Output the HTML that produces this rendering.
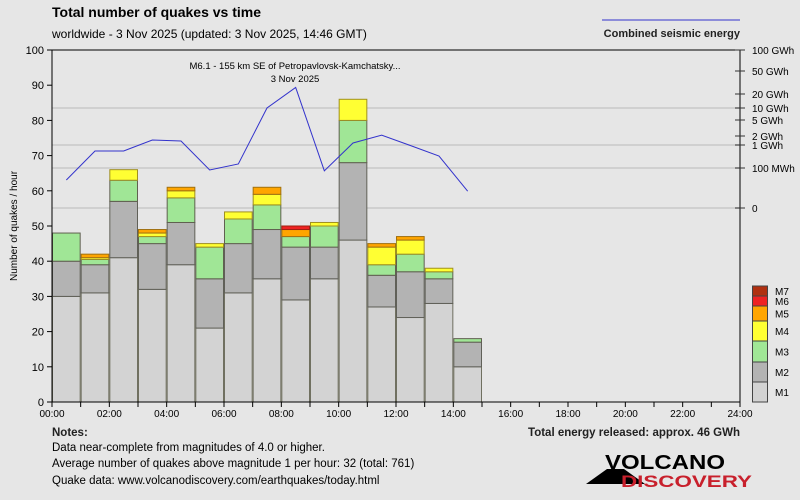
<!DOCTYPE html>
<html><head><meta charset="utf-8"><style>
html,body{margin:0;padding:0;background:#e6e6e6;}
svg{display:block;font-family:"Liberation Sans",sans-serif;}
</style></head><body>
<svg id="chart" width="800" height="500" viewBox="0 0 800 500" xmlns="http://www.w3.org/2000/svg">
<rect x="0" y="0" width="800" height="500" fill="#e6e6e6"/>
<text x="52" y="17" font-weight="bold" font-size="14" fill="#000">Total number of quakes vs time</text>
<text x="52" y="38" font-size="12" fill="#000">worldwide -  3 Nov 2025 (updated: 3 Nov 2025, 14:46 GMT)</text>
<line x1="602" y1="20" x2="740" y2="20" stroke="#3333cc" stroke-width="1"/>
<text x="740" y="37" text-anchor="end" font-weight="bold" font-size="11" fill="#222">Combined seismic energy</text>
<text transform="translate(17,226) rotate(-90)" text-anchor="middle" font-size="10" fill="#000">Number of quakes / hour</text>
<g id="grid"></g><g id="bars"></g><g id="energy"></g><g id="axes"></g><g id="legend"></g>
<text x="295" y="69" text-anchor="middle" font-size="9.5" fill="#000">M6.1 - 155 km SE of Petropavlovsk-Kamchatsky...</text>
<text x="295" y="82" text-anchor="middle" font-size="9.5" fill="#000">3 Nov 2025</text>
<text x="52" y="436" font-weight="bold" font-size="11.5" fill="#222">Notes:</text>
<text x="52" y="451" font-size="11.5" fill="#000">Data near-complete from magnitudes of 4.0 or higher.</text>
<text x="52" y="467" font-size="11.5" fill="#000">Average number of quakes above magnitude 1 per hour: 32 (total: 761)</text>
<text x="52" y="484" font-size="11.5" fill="#000">Quake data: www.volcanodiscovery.com/earthquakes/today.html</text>
<text x="740" y="436" text-anchor="end" font-weight="bold" font-size="11.5" fill="#222">Total energy released: approx. 46 GWh</text>
<g>
<polygon points="586,484 607,469 624,469 645,484" fill="#000"/>
<text x="605" y="469" font-weight="bold" font-size="20" fill="#000" textLength="120" lengthAdjust="spacingAndGlyphs">VOLCANO</text>
<text x="621" y="487" font-weight="bold" font-size="17" fill="#c8202c" textLength="131" lengthAdjust="spacingAndGlyphs">DISCOVERY</text>
</g>
</svg>
<script>
// Data
const hours = [0,1,2,3,4,5,6,7,8,9,10,11,12,13,14];
const m1 = [30,31,41,32,39,21,31,35,29,35,46,27,24,28,10];
const m2 = [10,8,16,13,12,14,14,14,15,9,22,9,13,7,7];
const m3 = [8,1.5,6,2,7,9,7,7,3,6,12,3,5,2,1];
const m4 = [0,0.5,3,1,2,1,2,3,0,1,6,5,4,1,0];
const m5 = [0,1,0,1,1,0,0,2,2,0,0,1,1,0,0];
const m6 = [0,0,0,0,0,0,0,0,1,0,0,0,0,0,0];
const m7 = [0,0,0,0,0,0,0,0,0,0,0,0,0,0,0];
const energyGWh = [0.07,0.55,0.55,1.47,1.36,0.095,0.15,10,26,0.093,1.17,2.1,0.95,0.33,0.042];
const yTicks = [0,10,20,30,40,50,60,70,80,90,100];
const xTickLabels = ["00:00","02:00","04:00","06:00","08:00","10:00","12:00","14:00","16:00","18:00","20:00","22:00","24:00"];
const eTickVals = [0,0.1,1,2,5,10,20,50,100];
const eTickLabels = ["0","100 MWh","1 GWh","2 GWh","5 GWh","10 GWh","20 GWh","50 GWh","100 GWh"];
const eTickY = [208,168,145,136,120,108,94,71,50];
const magNames = ["M1","M2","M3","M4","M5","M6","M7"];
const magColors = ["#d3d3d3","#b3b3b3","#a0e696","#ffff33","#ffa500","#ee2222","#b03010"];

const NS="http://www.w3.org/2000/svg";
const X0=52,X1=740,Y0=402,Y1=50;
const xs=h=>X0+(X1-X0)*h/24;
const ys=v=>Y0-(Y0-Y1)*v/100;
function ye(e){
  if(e<=0) return eTickY[0];
  if(e<=eTickVals[1]) return eTickY[0]+(eTickY[1]-eTickY[0])*e/eTickVals[1];
  for(let i=1;i<eTickVals.length-1;i++){
    if(e<=eTickVals[i+1]){
      const f=(Math.log(e)-Math.log(eTickVals[i]))/(Math.log(eTickVals[i+1])-Math.log(eTickVals[i]));
      return eTickY[i]+(eTickY[i+1]-eTickY[i])*f;
    }
  }
  return eTickY[eTickY.length-1];
}
function mk(tag,attrs,parent,text){const e=document.createElementNS(NS,tag);for(const k in attrs)e.setAttribute(k,attrs[k]);if(text!==undefined)e.textContent=text;parent.appendChild(e);return e;}
const grid=document.getElementById('grid'),bars=document.getElementById('bars'),energy=document.getElementById('energy'),axes=document.getElementById('axes'),legend=document.getElementById('legend');

[0,1,2,5].forEach(i=>{
  const l=mk('line',{x1:X0,x2:X1,y1:eTickY[i],y2:eTickY[i],stroke:'#d0d0d0','stroke-width':2},grid);
  
  
});

const series=[m1,m2,m3,m4,m5,m6,m7];
const strokes=["#707060","#606058","#606050","#a09020","#a07010","#a02010","#802010"];
hours.forEach((h,i)=>{
  let base=0;
  series.forEach((s,k)=>{
    const v=s[i]; if(v<=0) return;
    const r=mk('rect',{x:xs(h)+0.5,y:ys(base+v),width:xs(1)-X0-1,height:ys(base)-ys(base+v),fill:magColors[k],stroke:strokes[k],'stroke-width':1},bars);
    
    
    base+=v;
  });
});

const pts=hours.map((h,i)=>xs(h+0.5)+','+ye(energyGWh[i])).join(' ');
const pl=mk('polyline',{points:pts,fill:'none',stroke:'#3333cc','stroke-width':1},energy);



const ax=mk('path',{d:`M${X0},${Y1}V${Y0}H${X1}M${X0},${Y1}H${X1}V${Y0}`,stroke:'#000','stroke-width':1,fill:'none'},axes);


yTicks.forEach(t=>{
  const y=ys(t);
  const tl=mk('line',{x1:X0-5,x2:X0,y1:y,y2:y,stroke:'#000'},axes);
  
  
  const tx=mk('text',{x:X0-8,y:y+4,'text-anchor':'end','font-size':11,fill:'#000'},axes,String(t));
  
  
});
for(let h=0;h<=24;h++){
  const tl=mk('line',{x1:xs(h),x2:xs(h),y1:Y0,y2:Y0+5,stroke:'#000'},axes);
  
  
}
xTickLabels.forEach((lab,i)=>{
  const tx=mk('text',{x:xs(i*2),y:Y0+15,'text-anchor':'middle','font-size':10,fill:'#000'},axes,lab);
  
  
});
eTickY.forEach((y,i)=>{
  const tl=mk('line',{x1:X1-5,x2:X1+5,y1:y,y2:y,stroke:'#333'},axes);
  
  
  const tx=mk('text',{x:X1+12,y:y+4,'font-size':10,fill:'#000'},axes,eTickLabels[i]);
  
  
});

const legY=[402,382,362,341,321,306,296,286];
magNames.forEach((n,k)=>{
  const bot=legY[k],top=legY[k+1];
  const r=mk('rect',{x:752.5,y:top,width:15,height:bot-top,fill:magColors[k],stroke:'#444'},legend);
  
  
  const t=mk('text',{x:775,y:(top+bot)/2+4,'font-size':10,fill:'#000'},legend,n);
  
  
});
</script>
</body></html>
